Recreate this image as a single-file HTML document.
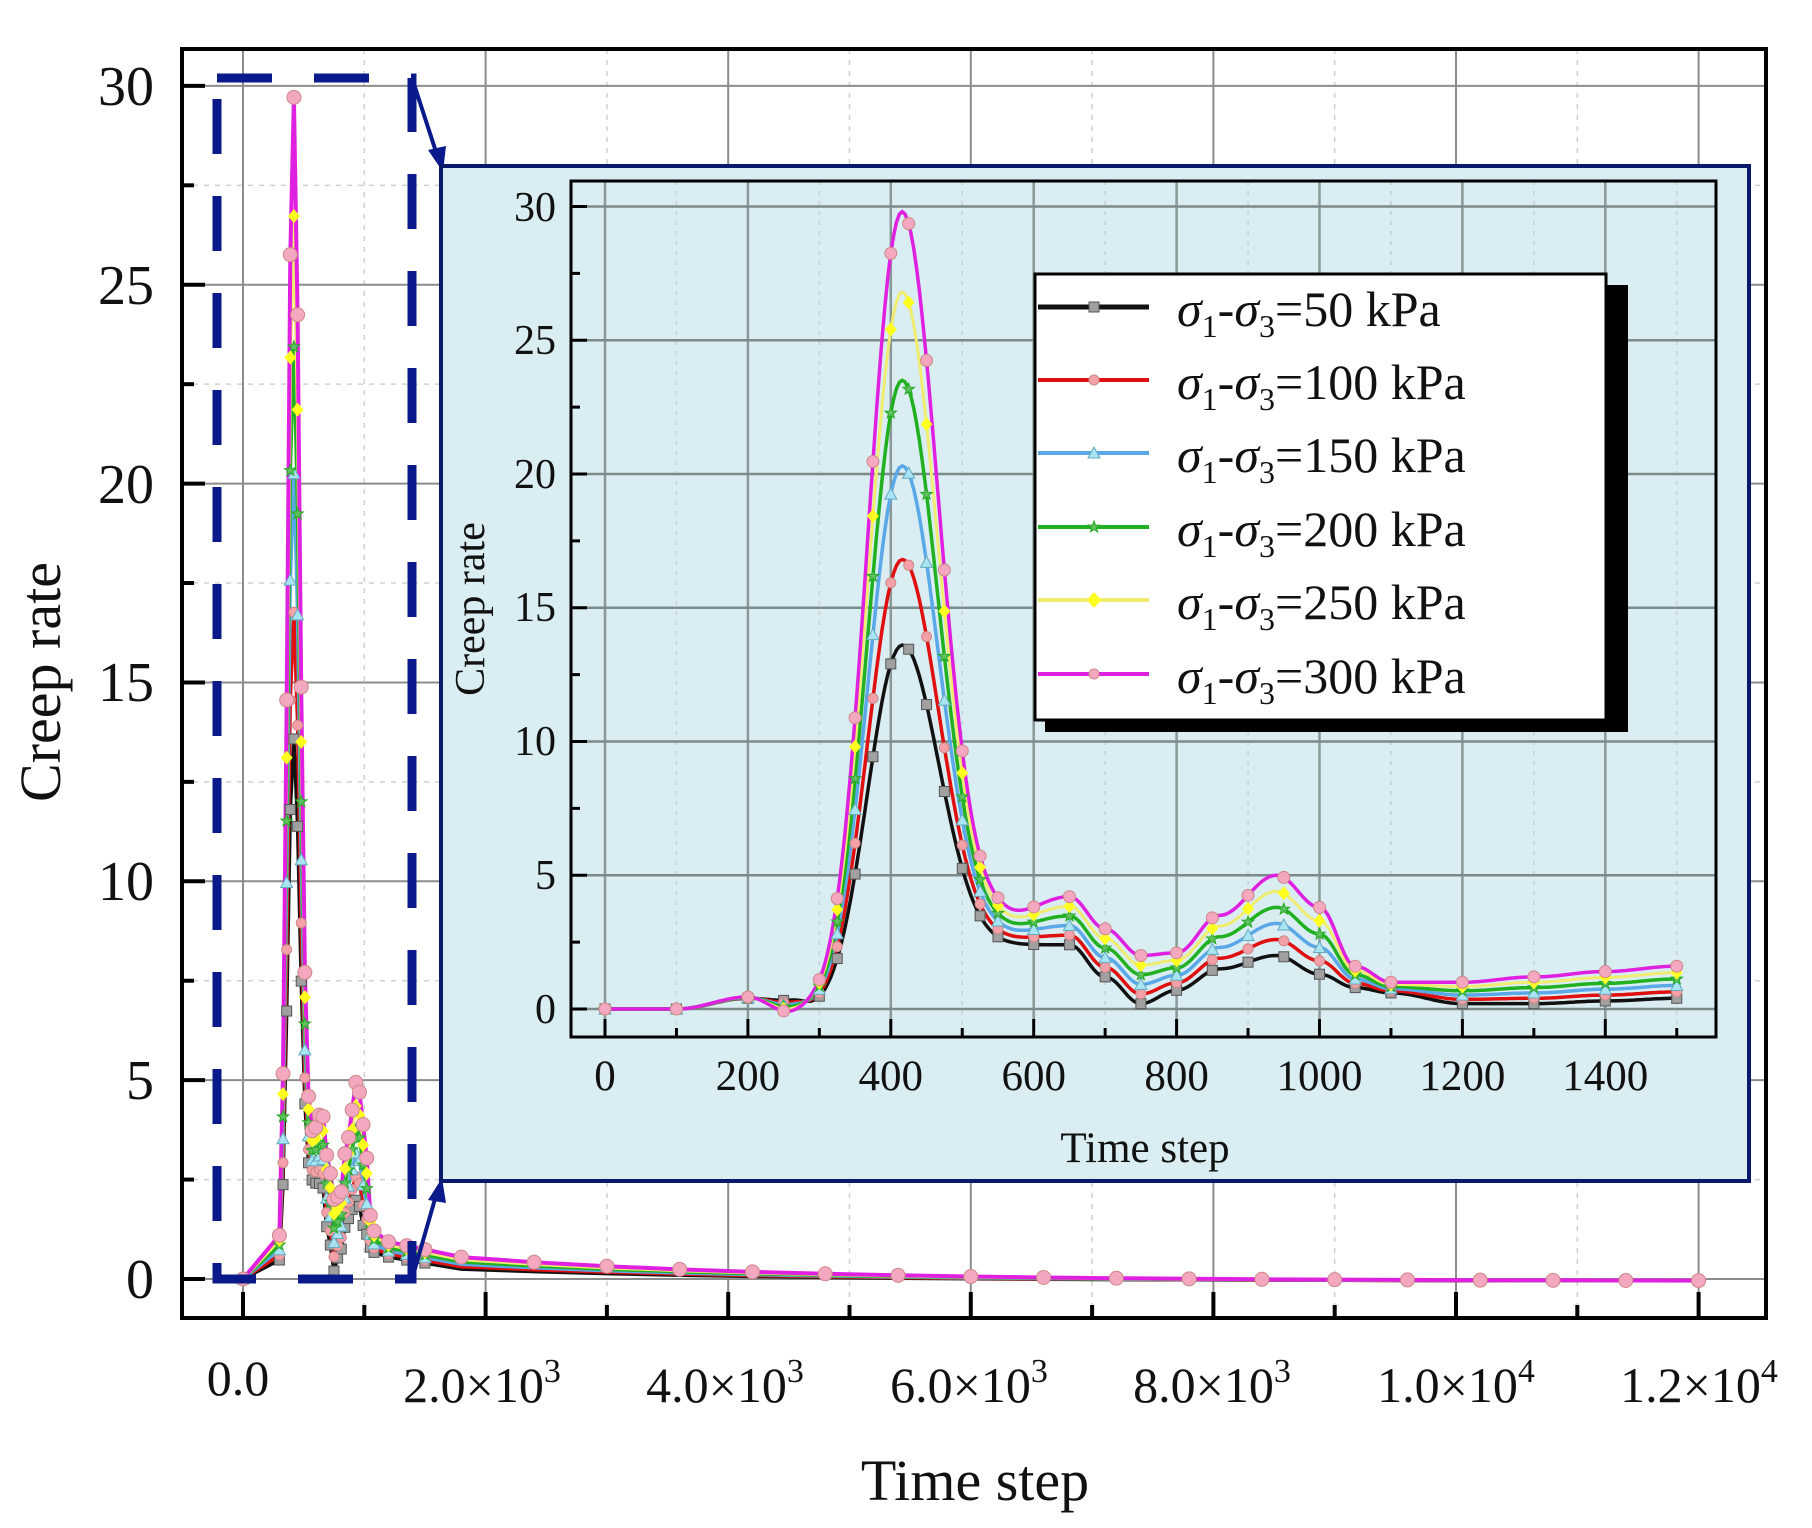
<!DOCTYPE html>
<html><head><meta charset="utf-8">
<style>
html,body{margin:0;padding:0;background:#fff;}
svg{display:block;font-family:"Liberation Serif",serif;}
</style></head>
<body>
<svg id="s" width="1812" height="1528" viewBox="0 0 1812 1528" xmlns="http://www.w3.org/2000/svg">
<rect width="1812" height="1528" fill="#fff"/>
<g id="maingrid"></g>
<g id="mainseries"></g>
<rect x="182" y="49" width="1584" height="1269" fill="none" stroke="#000" stroke-width="4"/>
<g id="mainticks"></g>
<g font-size="56" text-anchor="end" fill="#111">
<text x="154" y="1298">0</text>
<text x="154" y="1099">5</text>
<text x="154" y="900">10</text>
<text x="154" y="701">15</text>
<text x="154" y="503">20</text>
<text x="154" y="304">25</text>
<text x="154" y="105">30</text>
</g>
<g font-size="50" text-anchor="middle" fill="#111">
<text x="238" y="1395">0.0</text>
<text x="482" y="1402">2.0×10<tspan dy="-20" font-size="34">3</tspan></text>
<text x="725" y="1402">4.0×10<tspan dy="-20" font-size="34">3</tspan></text>
<text x="969" y="1402">6.0×10<tspan dy="-20" font-size="34">3</tspan></text>
<text x="1212" y="1402">8.0×10<tspan dy="-20" font-size="34">3</tspan></text>
<text x="1456" y="1402">1.0×10<tspan dy="-20" font-size="34">4</tspan></text>
<text x="1699" y="1402">1.2×10<tspan dy="-20" font-size="34">4</tspan></text>
</g>
<text x="975" y="1500" font-size="58" text-anchor="middle" fill="#111">Time step</text>
<text transform="translate(60,682) rotate(-90)" font-size="58" text-anchor="middle" fill="#111">Creep rate</text>

<rect x="217" y="78" width="195" height="1201" fill="none" stroke="#0a1a8a" stroke-width="9" stroke-dasharray="55,42"/>
<line x1="412" y1="78" x2="438" y2="158" stroke="#0a1a8a" stroke-width="4"/>
<polygon points="443,172 428,150 446,146" fill="#0a1a8a"/>
<line x1="412" y1="1279" x2="437" y2="1192" stroke="#0a1a8a" stroke-width="4"/>
<polygon points="442,1178 428,1200 446,1203" fill="#0a1a8a"/>

<rect x="441" y="166" width="1308" height="1015" fill="#d9edf3" stroke="#0a1a6a" stroke-width="4"/>
<g id="insetgrid"></g>
<g id="insetseries"></g>
<rect x="571" y="181" width="1145" height="856" fill="none" stroke="#000" stroke-width="3"/>
<g id="insetticks"></g>
<g font-size="42" text-anchor="end" fill="#111">
<text x="556" y="1023">0</text>
<text x="556" y="889">5</text>
<text x="556" y="755">10</text>
<text x="556" y="621">15</text>
<text x="556" y="488">20</text>
<text x="556" y="354">25</text>
<text x="556" y="221">30</text>
</g>
<g font-size="43" text-anchor="middle" fill="#111" id="insetxl"></g>
<text x="1145" y="1162" font-size="43" text-anchor="middle" fill="#111">Time step</text>
<text transform="translate(484,609) rotate(-90)" font-size="42" text-anchor="middle" fill="#111">Creep rate</text>

<rect x="1045" y="285" width="583" height="447" fill="#000"/>
<rect x="1035" y="274" width="571" height="446" fill="#fff" stroke="#000" stroke-width="3"/>
<g id="legend"></g>
<g font-size="50" fill="#111">
<text x="1177" y="326"><tspan font-style="italic">σ</tspan><tspan font-size="32" dy="11">1</tspan><tspan dy="-11">-</tspan><tspan font-style="italic">σ</tspan><tspan font-size="32" dy="11">3</tspan><tspan dy="-11">=50 kPa</tspan></text>
<text x="1177" y="399"><tspan font-style="italic">σ</tspan><tspan font-size="32" dy="11">1</tspan><tspan dy="-11">-</tspan><tspan font-style="italic">σ</tspan><tspan font-size="32" dy="11">3</tspan><tspan dy="-11">=100 kPa</tspan></text>
<text x="1177" y="472"><tspan font-style="italic">σ</tspan><tspan font-size="32" dy="11">1</tspan><tspan dy="-11">-</tspan><tspan font-style="italic">σ</tspan><tspan font-size="32" dy="11">3</tspan><tspan dy="-11">=150 kPa</tspan></text>
<text x="1177" y="546"><tspan font-style="italic">σ</tspan><tspan font-size="32" dy="11">1</tspan><tspan dy="-11">-</tspan><tspan font-style="italic">σ</tspan><tspan font-size="32" dy="11">3</tspan><tspan dy="-11">=200 kPa</tspan></text>
<text x="1177" y="619"><tspan font-style="italic">σ</tspan><tspan font-size="32" dy="11">1</tspan><tspan dy="-11">-</tspan><tspan font-style="italic">σ</tspan><tspan font-size="32" dy="11">3</tspan><tspan dy="-11">=250 kPa</tspan></text>
<text x="1177" y="693"><tspan font-style="italic">σ</tspan><tspan font-size="32" dy="11">1</tspan><tspan dy="-11">-</tspan><tspan font-style="italic">σ</tspan><tspan font-size="32" dy="11">3</tspan><tspan dy="-11">=300 kPa</tspan></text>
</g>
</svg>
<script>
var NS="http://www.w3.org/2000/svg";
function el(p,tag,a){var e=document.createElementNS(NS,tag);for(var k in a)e.setAttribute(k,a[k]);p.appendChild(e);return e;}
var $=function(id){return document.getElementById(id);};
var cols=["#111111","#e01010","#5aa8e8","#20b020","#f0ec70","#e020e0"];
var mcol=["#a0a0a0","#f4a0a8","#a8e4f4","#60c060","#ffff20","#f4a8c0"];
var peaks=[13.6,16.8,20.3,23.5,26.8,29.8];
var cp=[[0,0,0],[100,0,0],[200,0.4,0.45],[260,0.3,-0.15],[300,0,0],[400,1.5,2],[500,2.5,3.3],[560,2.4,3.5],[650,2.4,4.2],[700,1.2,3.0],[750,0.2,2.0],[800,0.7,2.1],[860,1.5,3.5],[940,2.0,5.0],[1000,1.3,3.8],[1050,0.8,1.6],[1100,0.6,1.0],[1200,0.2,1.0],[1300,0.2,1.2],[1400,0.3,1.4],[1500,0.4,1.6]];
function base(t,f){for(var i=0;i<cp.length-1;i++){if(t>=cp[i][0]&&t<=cp[i+1][0]){var a=cp[i],b=cp[i+1];var u=(t-a[0])/(b[0]-a[0]);u=(1-Math.cos(Math.PI*u))/2;var va=a[1]+(a[2]-a[1])*f,vb=b[1]+(b[2]-b[1])*f;return va+(vb-va)*u;}}return 0;}
function tail(t,f){return -0.05+(0.3+0.3*f)*Math.exp(-(t-1800)/2500);}
function val(t,k){var f=k/5;var b=base(t,f);var w=t<415?64:70;return b+(peaks[k]-base(415,f))*Math.exp(-Math.pow((t-415)/w,2));}
function mval(t,k){var f=k/5;if(t<=1100)return val(t,k);if(t>=1800)return tail(t,f);var a=val(1100,k),b=tail(1800,f);var u=(t-1100)/700;return a+(b-a)*u;}
var ig=$("insetgrid");
function IX(t){return 605+t*0.7145;}function IY(v){return 1009-v*26.75;}
for(var t=0;t<=1500;t+=100){var x=IX(t);el(ig,"line",{x1:x,y1:181,x2:x,y2:1037,stroke:t%200==0?"#8a9898":"#c4d0d4","stroke-width":t%200==0?2.5:1.5,"stroke-dasharray":t%200==0?"":"4,6"});}
for(var v=0;v<=30;v+=5){var y=IY(v);el(ig,"line",{x1:571,y1:y,x2:1716,y2:y,stroke:"#7d8a8a","stroke-width":2.5});}
var it=$("insetticks");
for(var t=0;t<=1500;t+=100){var x=IX(t);el(it,"line",{x1:x,y1:1037,x2:x,y2:t%200==0?1019:1028,stroke:"#000","stroke-width":3});}
for(var v=0;v<=30;v+=2.5){var y=IY(v);el(it,"line",{x1:571,y1:y,x2:v%5==0?587:580,y2:y,stroke:"#000","stroke-width":3});}
var ixl=$("insetxl");for(var t=0;t<=1400;t+=200){var tx=el(ixl,"text",{x:IX(t),y:1090});tx.textContent=t;}
function marker(g,k,x,y,s){var c=mcol[k];
 if(k==0)el(g,"rect",{x:x-s,y:y-s,width:2*s,height:2*s,fill:c,stroke:"#555","stroke-width":1});
 else if(k==2)el(g,"polygon",{points:(x)+","+(y-s-1)+" "+(x-s-1)+","+(y+s)+" "+(x+s+1)+","+(y+s),fill:c,stroke:"#6ab","stroke-width":1});
 else if(k==3)el(g,"polygon",{points:[0,1,2,3,4,5,6,7,8,9].map(function(i){var r=i%2?s*0.5:s*1.2,a=-Math.PI/2+i*Math.PI/5;return (x+r*Math.cos(a))+","+(y+r*Math.sin(a));}).join(" "),fill:c,stroke:"#2a2","stroke-width":1});
 else if(k==4)el(g,"polygon",{points:x+","+(y-s-2)+" "+(x+s+1)+","+y+" "+x+","+(y+s+2)+" "+(x-s-1)+","+y,fill:c});
 else el(g,"circle",{cx:x,cy:y,r:s,fill:c,stroke:"#c88","stroke-width":1});}
var is=$("insetseries");
var mt=[];for(var t=0;t<=1500;){mt.push(t);t+=(t>=300&&t<550)?25:(t<1100&&t>=200?50:100);}
for(var k=0;k<6;k++){var d="";for(var t=0;t<=1500;t+=4){d+=(t?"L":"M")+IX(t).toFixed(1)+","+IY(val(t,k)).toFixed(1);}
 el(is,"path",{d:d,fill:"none",stroke:cols[k],"stroke-width":k==4?3:3.5});}
for(var k=0;k<6;k++){mt.forEach(function(t){marker(is,k,IX(t),IY(val(t,k)),k==5?6:5);});}
var mg=$("maingrid");
function MX(t){return 243+t*0.1213;}function MY(v){return 1279-v*39.77;}
for(var i=0;i<=13;i++){var t=i*1000,x=MX(t);if(x>1766)break;el(mg,"line",{x1:x,y1:49,x2:x,y2:1318,stroke:i%2==0?"#8c8c8c":"#d0d0d0","stroke-width":i%2==0?2:1.5,"stroke-dasharray":i%2==0?"":"5,6"});}
for(var v=0;v<=32.5;v+=2.5){var y=MY(v);if(y<49)break;el(mg,"line",{x1:182,y1:y,x2:1766,y2:y,stroke:v%5==0?"#8c8c8c":"#d0d0d0","stroke-width":v%5==0?2:1.5,"stroke-dasharray":v%5==0?"":"5,6"});}
var mtk=$("mainticks");
for(var i=0;i<=13;i++){var x=MX(i*1000);if(x>1766)break;el(mtk,"line",{x1:x,y1:1318,x2:x,y2:i%2==0?1292:1305,stroke:"#000","stroke-width":4});}
for(var v=0;v<=30;v+=2.5){var y=MY(v);el(mtk,"line",{x1:182,y1:y,x2:v%5==0?205:194,y2:y,stroke:"#000","stroke-width":4});}
var ms=$("mainseries");
var pts=[0];for(var t=300;t<=1100;t+=30)pts.push(t);pts.push(1200,1350,1500);for(var t=1800;t<=12000;t+=600)pts.push(t);
for(var k=0;k<6;k++){var d="";pts.forEach(function(t,i){d+=(i?"L":"M")+MX(t).toFixed(1)+","+MY(mval(t,k)).toFixed(1);});
 el(ms,"path",{d:d,fill:"none",stroke:cols[k],"stroke-width":k==5?4:3.5});}
for(var k=0;k<6;k++){pts.forEach(function(t){if(t>1500&&k!=5)return;marker(ms,k,MX(t),MY(mval(t,k)),k==5?7:5);});}
var lg=$("legend");var ly=[307,380,453,527,600,674];
for(var k=0;k<6;k++){el(lg,"line",{x1:1038,y1:ly[k],x2:1149,y2:ly[k],stroke:cols[k],"stroke-width":k==0?5:4});marker(lg,k,1094,ly[k],k==4?6:5);}
</script>
</body></html>
